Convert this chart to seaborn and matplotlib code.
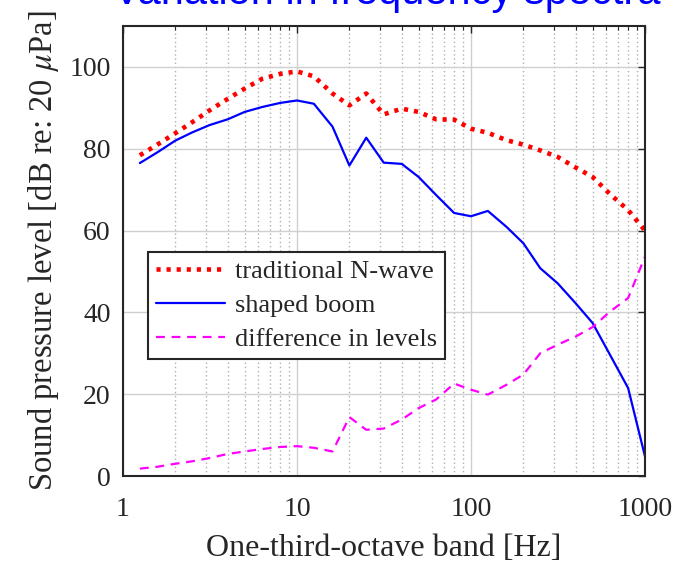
import numpy as np
import pandas as pd
import seaborn as sns
import matplotlib.pyplot as plt
from matplotlib.ticker import LogLocator, FixedLocator, NullFormatter

sns.set_theme(style="white")
plt.rcParams['font.family'] = ['Liberation Serif', 'DejaVu Serif']
plt.rcParams['mathtext.fontset'] = 'stix'

# one-third-octave band centre frequencies [Hz]
freq = [1.25, 1.6, 2, 2.5, 3.15, 4, 5, 6.3, 8, 10, 12.5, 16, 20, 25, 31.5,
        40, 50, 63, 80, 100, 125, 160, 200, 250, 315, 400, 500, 630, 800, 1000]

n_wave = [78.4, 81.2, 83.8, 86.5, 89.4, 92.2, 94.7, 97.1, 98.3, 98.9, 97.7, 93.5,
          90.6, 93.5, 88.4, 89.8, 89.0, 87.2, 87.1, 84.9, 83.9, 82.1, 81.0, 79.6,
          78.0, 75.4, 73.1, 68.9, 65.0, 60.0]

shaped = [76.5, 79.3, 82.0, 84.0, 85.8, 87.2, 89.0, 90.2, 91.2, 91.8, 91.0, 85.4,
          75.9, 82.7, 76.6, 76.3, 73.1, 68.7, 64.3, 63.5, 64.8, 60.9, 56.9, 50.8,
          47.1, 42.2, 37.4, 29.6, 21.5, 4.8]

diff = [1.8, 2.3, 3.0, 3.6, 4.4, 5.4, 6.0, 6.6, 7.1, 7.3, 6.9, 6.0,
        14.4, 11.3, 11.6, 13.8, 16.6, 18.7, 22.6, 21.1, 19.9, 22.3, 24.8, 30.0,
        32.1, 34.1, 36.4, 40.2, 43.5, 53.6]

fig = plt.figure(figsize=(6.77, 5.62), dpi=100)
ax = fig.add_axes([0.1817, 0.153, 0.771, 0.8007])

sns.lineplot(x=freq, y=n_wave, ax=ax, color=(1, 0, 0), lw=3.3,
             label="traditional N-wave")
sns.lineplot(x=freq, y=shaped, ax=ax, color=(0, 0, 1), lw=1.6,
             label="shaped boom")
sns.lineplot(x=freq, y=diff, ax=ax, color=(1, 0, 1), lw=1.6,
             label="difference in levels")
ax.lines[0].set_dashes((0.9, 1.3))
ax.lines[2].set_dashes((4, 3))

ax.set_xscale('log')
ax.set_xlim(1, 1000)
ax.set_ylim(0, 110)
ax.set_yticks([0, 20, 40, 60, 80, 100])
ax.xaxis.set_major_locator(FixedLocator([1, 10, 100, 1000]))
ax.set_xticklabels(["1", "10", "100", "1000"])
ax.xaxis.set_minor_locator(LogLocator(base=10, subs=np.arange(2, 10)))
ax.xaxis.set_minor_formatter(NullFormatter())

ax.grid(True, which='major', color='#d0d0d0', lw=1.0, ls='-')
ax.grid(True, which='minor', axis='x', color='#b0b0b0', lw=1.0, ls=(0, (1, 2)))
ax.set_axisbelow(True)

for s in ax.spines.values():
    s.set_color('#262626')
    s.set_linewidth(1.5)
ax.tick_params(which='both', direction='in', top=True, right=True,
               colors='#262626', labelsize=20)
ax.tick_params(axis='x', pad=15)
ax.tick_params(axis='y', pad=9)
ax.tick_params(which='major', length=5, width=1)
ax.tick_params(which='minor', length=3, width=0.8)

ax.set_xlabel("One-third-octave band [Hz]", fontsize=23, color='#262626',
              labelpad=9)
ax.set_ylabel(r"Sound pressure level [dB re: 20 $\mu$Pa]", fontsize=23.5,
              color='#262626', labelpad=6)

leg = ax.legend(loc='upper left', bbox_to_anchor=(0.048, 0.498), fontsize=19,
                frameon=True, fancybox=False, framealpha=1, borderpad=0.3,
                labelspacing=0.4, handlelength=2.6, handletextpad=0.4,
                borderaxespad=0)
leg.get_frame().set_edgecolor('#262626')
leg.get_frame().set_linewidth(1.5)

fig.text(0.572, 1 - 4 / 562, "Variation in frequency spectra", color=(0, 0, 1),
         fontsize=30, family=['Liberation Sans', 'DejaVu Sans'],
         ha='center', va='baseline')

fig.savefig("out.png", dpi=100)
